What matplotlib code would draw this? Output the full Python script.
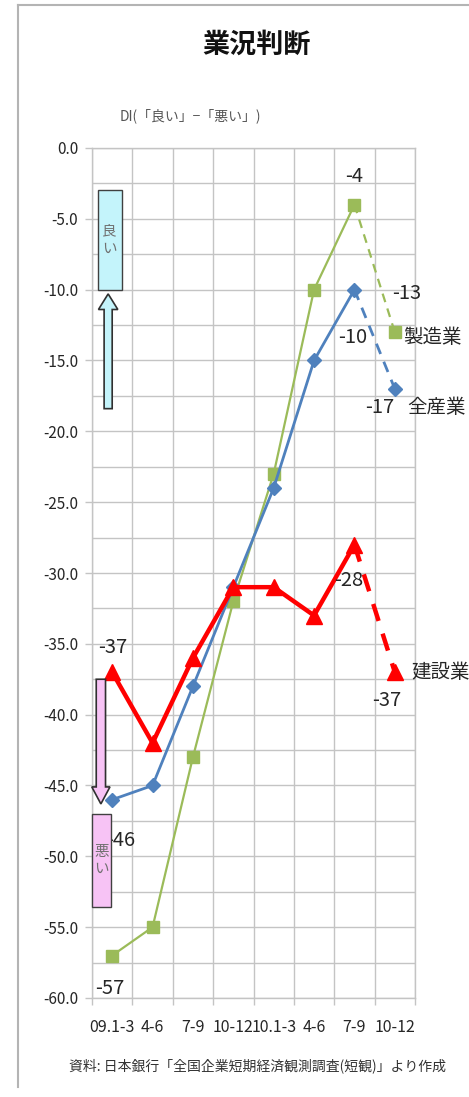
import matplotlib
matplotlib.use("Agg")
import matplotlib.pyplot as plt
from matplotlib.lines import Line2D
from matplotlib.patches import FancyArrow, Rectangle
import numpy as np

plt.rcParams['font.family'] = ['Noto Sans CJK JP', 'DejaVu Sans']
NUM_FONT = ['Liberation Sans Narrow', 'Noto Sans CJK JP', 'DejaVu Sans']

# 業況判断DI（「良い」−「悪い」）, 日銀短観
quarters = ['09.1-3', '4-6', '7-9', '10-12', '10.1-3', '4-6', '7-9', '10-12']
all_ind = [-46, -45, -38, -31, -24, -15, -10, -17]        # 全産業
manuf = [-57, -55, -43, -32, -23, -10, -4, -13]          # 製造業
constr = [-37, -42, -36, -31, -31, -33, -28, -37]        # 建設業

GREEN = '#9bbb59'
BLUE = '#4f81bd'
RED = '#ff0000'
GRID = '#c4c4c4'
TXT = '#262626'

fig = plt.figure(figsize=(4.69, 10.97), dpi=100)
ax = fig.add_axes([92 / 469, 1 - 998 / 1097, (415 - 92) / 469, (998 - 148) / 1097])

x = np.arange(len(quarters))


def draw_series(vals, color, marker, ms, lw, z):
    ax.plot(x[:-1], vals[:-1], color=color, lw=lw, marker=marker, ms=ms,
            mec=color, mfc=color, zorder=z, solid_joinstyle='miter')
    ax.plot(x[-2:], vals[-2:], color=color, lw=lw, ls=(0, (4, 3)), zorder=z)
    ax.plot(x[-1:], vals[-1:], ls='none', marker=marker, ms=ms,
            mec=color, mfc=color, zorder=z)


draw_series(manuf, GREEN, 's', 9, 1.6, 3)
draw_series(all_ind, BLUE, 'D', 7, 2.0, 4)
draw_series(constr, RED, '^', 12, 3.2, 5)

ax.set_xlim(-0.5, len(quarters) - 0.5)
ax.set_ylim(-60, 0)

# grid: boundaries between quarters, every 2.5 points on y
ax.set_xticks(np.arange(-0.5, len(quarters), 1.0))
ax.set_xticklabels([])
ax.set_xticks(x, minor=True)
ax.set_xticklabels(quarters, minor=True, fontsize=11.5, color=TXT, family=NUM_FONT)
ax.tick_params(axis='x', which='minor', length=0, pad=15)
ax.tick_params(axis='x', which='major', length=5, color=GRID, width=1)
ax.set_yticks(np.arange(-60, 0.1, 5))
ax.set_yticklabels(['%.1f' % v for v in np.arange(-60, 0.1, 5)],
                   fontsize=11, color=TXT, family=NUM_FONT)
ax.set_yticks(np.arange(-57.5, 0, 5), minor=True)
ax.tick_params(axis='y', which='major', length=5, color=GRID, width=1, pad=5)
ax.tick_params(axis='y', which='minor', length=0)
ax.grid(True, which='major', axis='x', color=GRID, lw=1)
ax.grid(True, which='both', axis='y', color=GRID, lw=1)
ax.set_axisbelow(True)
for s in ax.spines.values():
    s.set_color(GRID)
    s.set_linewidth(1)


def label(series, i, text, dx, dy, ha='center', size=14.5, z=6):
    ax.annotate(text, (x[i], series[i]), xytext=(dx * 0.72, -dy * 0.72),
                textcoords='offset points', ha=ha, va='center',
                fontsize=size, color=TXT, family=NUM_FONT, zorder=z)


label(constr, 0, '%d' % constr[0], 1, -25)
label(all_ind, 0, '%d' % all_ind[0], 8, 41, z=1)
label(manuf, 0, '%d' % manuf[0], -2, 33)
label(manuf, 6, '%d' % manuf[6], 0, -28)
label(all_ind, 6, '%d' % all_ind[6], -2, 48)
label(constr, 6, '%d' % constr[6], -6, 36)
label(manuf, 7, '%d' % manuf[7], 12, -39)
label(all_ind, 7, '%d' % all_ind[7], -15, 19)
label(constr, 7, '%d' % constr[7], -8, 28)

label(manuf, 7, '製造業', 8, 5, ha='left', size=14)
label(all_ind, 7, '全産業', 12, 19, ha='left', size=14)
label(constr, 7, '建設業', 16, 0, ha='left', size=14)

# 「良い」 box with upward arrow
ax.add_patch(Rectangle((-0.36, -10), 0.6, 7.0, fc='#c4f4fb', ec='#404040',
                       lw=1, zorder=7))
ax.text(-0.06, -6.5, '良\nい', ha='center', va='center', fontsize=10.5,
        color='#707070', linespacing=1.3, zorder=8)
ax.add_patch(FancyArrow(-0.1, -18.4, 0, 8.1, width=0.2, head_width=0.48,
                        head_length=1.1, length_includes_head=True,
                        fc='#c4f4fb', ec='#303030', lw=1.2, zorder=7))

# 「悪い」 box with downward arrow
ax.add_patch(Rectangle((-0.5, -53.6), 0.47, 6.6, fc='#f7c3f5', ec='#404040',
                       lw=1, zorder=7))
ax.text(-0.265, -50.3, '悪\nい', ha='center', va='center', fontsize=10.5,
        color='#707070', linespacing=1.3, zorder=8)
ax.add_patch(FancyArrow(-0.28, -37.5, 0, -8.8, width=0.23, head_width=0.45,
                        head_length=1.2, length_includes_head=True,
                        fc='#f7c3f5', ec='#303030', lw=1.2, zorder=7))

for a in ax.patches:
    a.set_clip_on(False)

fig.text(257 / 469, 1 - 45 / 1097, '業況判断', ha='center', va='center',
         fontsize=19.5, fontweight='bold', color='#111111')
fig.text(190 / 469, 1 - 116 / 1097, 'DI(「良い」−「悪い」)', ha='center',
         va='center', fontsize=10, color='#555555')
fig.text(257 / 469, 1 - 1066 / 1097,
         '資料: 日本銀行「全国企業短期経済観測調査(短観)」より作成',
         ha='center', va='center', fontsize=10, color='#333333')

# outer frame (top and left edges)
fig.add_artist(Line2D([18 / 469, 1], [1 - 5 / 1097, 1 - 5 / 1097],
                      color='#b4b4b4', lw=1.5))
fig.add_artist(Line2D([18 / 469, 18 / 469], [1 - 5 / 1097, 1 - 1087 / 1097],
                      color='#b4b4b4', lw=1.5))

fig.savefig('out.png', dpi=100, facecolor='white')
